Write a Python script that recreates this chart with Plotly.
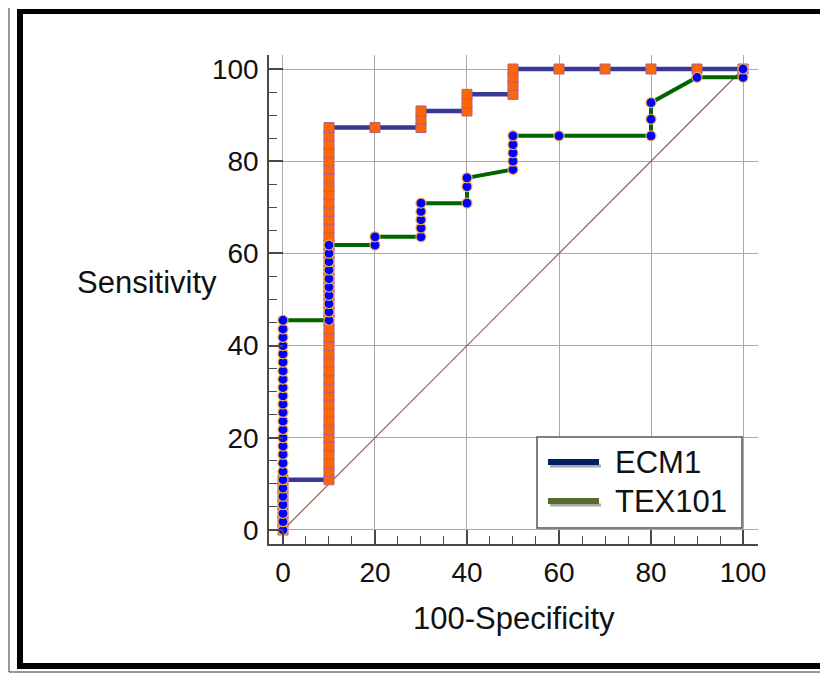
import plotly.graph_objects as go

# ---- data ----
series_names = ["ECM1", "TEX101"]

# ECM1: 100-Specificity values and sensitivity values (%)
ecm1_fpr = [0, 0, 0, 0, 0, 0, 0,
            10, 10, 10, 10, 10, 10, 10, 10, 10, 10, 10, 10, 10, 10, 10,
            10, 10, 10, 10, 10, 10, 10, 10, 10, 10, 10, 10, 10, 10, 10,
            10, 10, 10, 10, 10, 10, 10, 10, 10, 10, 10, 10, 10,
            20,
            30, 30, 30,
            40, 40, 40,
            50, 50, 50, 50,
            60, 70, 80, 90, 100]
ecm1_sens = [0, 1.8, 3.6, 5.5, 7.3, 9.1, 10.9,
             10.9, 12.7, 14.5, 16.4, 18.2, 20.0, 21.8, 23.6, 25.5, 27.3, 29.1,
             30.9, 32.7, 34.5, 36.4, 38.2, 40.0, 41.8, 43.6, 45.5, 47.3, 49.1,
             50.9, 52.7, 54.5, 56.4, 58.2, 60.0, 61.8, 63.6, 65.5, 67.3, 69.1,
             70.9, 72.7, 74.5, 76.4, 78.2, 80.0, 81.8, 83.6, 85.5, 87.3,
             87.3,
             87.3, 89.1, 90.9,
             90.9, 92.7, 94.5,
             94.5, 96.4, 98.2, 100,
             100, 100, 100, 100, 100]

# TEX101
tex_fpr = [0, 0, 0, 0, 0, 0, 0, 0, 0, 0, 0, 0, 0, 0, 0, 0, 0, 0, 0, 0, 0, 0, 0, 0, 0, 0,
           10, 10, 10, 10, 10, 10, 10, 10, 10, 10,
           20, 20,
           30, 30, 30, 30, 30,
           40, 40, 40,
           50, 50, 50, 50, 50,
           60,
           80, 80, 80,
           90,
           100, 100]
tex_sens = [0, 1.8, 3.6, 5.5, 7.3, 9.1, 10.9, 12.7, 14.5, 16.4, 18.2, 20.0, 21.8,
            23.6, 25.5, 27.3, 29.1, 30.9, 32.7, 34.5, 36.4, 38.2, 40.0, 41.8, 43.6, 45.5,
            45.5, 47.3, 49.1, 50.9, 52.7, 54.5, 56.4, 58.2, 60.0, 61.8,
            61.8, 63.6,
            63.6, 65.5, 67.3, 69.1, 70.9,
            70.9, 74.5, 76.4,
            78.2, 80.0, 81.8, 83.6, 85.5,
            85.5,
            85.5, 89.1, 92.7,
            98.2,
            98.2, 100]

diag_x = [0, 100]
diag_y = [0, 100]

tick_vals = [0, 20, 40, 60, 80, 100]
tick_text = ["0", "20", "40", "60", "80", "100"]

line_colors = ["#383896", "#006400"]
legend_colors = ["#002060", "#556b2f"]

# ---- geometry helpers (page pixel -> paper) ----
OFF = 8  # page body margin
L, R, T, B = 269, 758, 55, 544   # plot area on the page
W, H = R - L, B - T
FIG_W, FIG_H = 828, 674


def px(x):
    return (x - L) / W


def py(y):
    return (B - y) / H


fig = go.Figure()

fig.add_trace(go.Scatter(x=diag_x, y=diag_y, mode="lines",
                         line=dict(color="#a05858", width=1.2),
                         showlegend=False, hoverinfo="skip"))

fig.add_trace(go.Scatter(x=ecm1_fpr, y=ecm1_sens, mode="lines+markers",
                         name=series_names[0],
                         line=dict(color=line_colors[0], width=4.5),
                         marker=dict(symbol="square", size=10, color="#ff6600",
                                     line=dict(color="#b0608a", width=1)),
                         showlegend=False))

fig.add_trace(go.Scatter(x=tex_fpr, y=tex_sens, mode="lines+markers",
                         name=series_names[1],
                         line=dict(color=line_colors[1], width=4),
                         marker=dict(symbol="circle", size=10, color="#0000ff",
                                     line=dict(color="#f2b04a", width=1.2)),
                         showlegend=False))

font_family = "Liberation Sans, Arial, sans-serif"
text_col = "#111111"

axis_common = dict(
    tickmode="array", tickvals=tick_vals, ticktext=tick_text,
    showgrid=True, gridcolor="#a8a8a8", gridwidth=1,
    zeroline=False, showline=True, linecolor="#4a4a4a", linewidth=1.5,
    ticks="inside", ticklen=14, tickcolor="#4a4a4a", tickwidth=1.5,
    minor=dict(tickmode="linear", tick0=0, dtick=5, ticks="inside",
               ticklen=8, tickcolor="#4a4a4a", tickwidth=1.2, showgrid=False),
    tickfont=dict(family=font_family, size=28, color=text_col),
    fixedrange=True,
)

fig.update_xaxes(range=[-3.04, 103.26], ticklabelstandoff=3, **axis_common)
fig.update_yaxes(range=[-3.04, 103.04], ticklabelstandoff=3, **axis_common)

shapes = []
# outer thin frame
shapes.append(dict(type="rect", xref="paper", yref="paper",
                   x0=px(9), x1=px(850), y0=py(672), y1=py(5),
                   line=dict(color="#333333", width=1), fillcolor="rgba(0,0,0,0)",
                   layer="below"))
# thick black frame bars
for (x0, x1, y0, y1) in [(17, 23, 669, 9), (17, 850, 14, 9), (17, 850, 669, 663)]:
    shapes.append(dict(type="rect", xref="paper", yref="paper",
                       x0=px(x0), x1=px(x1), y0=py(y0), y1=py(y1),
                       line=dict(width=0), fillcolor="#000000"))

# legend box
shapes.append(dict(type="rect", xref="paper", yref="paper",
                   x0=px(537), x1=px(742), y0=py(528), y1=py(437),
                   line=dict(color="#555555", width=1.5), fillcolor="white"))
legend_rows = [462, 501]
for name, col, yy in zip(series_names, legend_colors, legend_rows):
    # shadow
    shapes.append(dict(type="line", xref="paper", yref="paper",
                       x0=px(550), x1=px(601), y0=py(yy + 4), y1=py(yy + 4),
                       line=dict(color="#aaaaaa", width=3)))
    shapes.append(dict(type="line", xref="paper", yref="paper",
                       x0=px(548), x1=px(599), y0=py(yy), y1=py(yy),
                       line=dict(color=col, width=6)))

annotations = []
for name, yy in zip(series_names, legend_rows):
    annotations.append(dict(text=name, xref="paper", yref="paper",
                            x=px(613), y=py(yy), xanchor="left", yanchor="middle",
                            showarrow=False,
                            font=dict(family=font_family, size=31, color=text_col)))

annotations.append(dict(text="Sensitivity", xref="paper", yref="paper",
                        x=px(219), y=py(282), xanchor="right", yanchor="middle",
                        showarrow=False,
                        font=dict(family=font_family, size=31, color=text_col)))
annotations.append(dict(text="100-Specificity", xref="paper", yref="paper",
                        x=px(514), y=py(618), xanchor="center", yanchor="middle",
                        showarrow=False,
                        font=dict(family=font_family, size=31, color=text_col)))

fig.update_layout(
    width=FIG_W, height=FIG_H,
    margin=dict(l=L - OFF, r=FIG_W - (R - OFF), t=T - OFF, b=FIG_H - (B - OFF), pad=0),
    paper_bgcolor="white", plot_bgcolor="white",
    showlegend=False,
    shapes=shapes, annotations=annotations,
)

fig.write_html("out.html")
